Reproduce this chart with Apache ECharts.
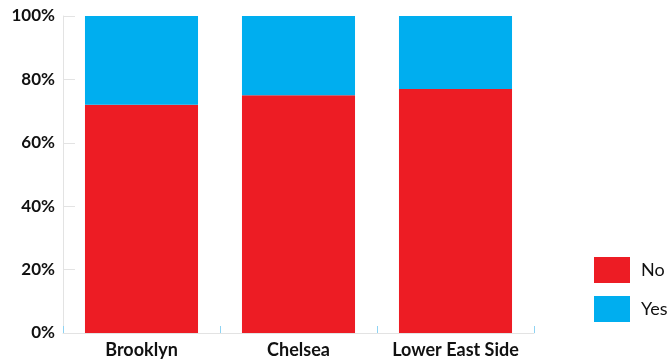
<!DOCTYPE html>
<html>
<head>
<meta charset="utf-8">
<script src="https://cdn.jsdelivr.net/npm/echarts@6/dist/echarts.min.js"></script>
<style>
  html, body { margin: 0; padding: 0; background: #fff; }
  #chart { width: 667px; height: 362px; }
</style>
</head>
<body>
<div id="chart"></div>
<script>
// Share of answers per neighbourhood (percent)
const neighbourhoods = ['Brooklyn', 'Chelsea', 'Lower East Side'];
const noShare = [72, 75, 77];
const yesShare = [28, 25, 23];
const yTicks = [0, 20, 40, 60, 80, 100];

const font = 'Lato, "Open Sans", sans-serif';

const chart = echarts.init(document.getElementById('chart'));
chart.setOption({
  animation: false,
  grid: { left: 63, right: 133, top: 16, bottom: 29 },
  legend: {
    orient: 'vertical',
    left: 589,
    top: 252,
    itemWidth: 36,
    itemHeight: 26,
    itemGap: 13,
    icon: 'rect',
    textStyle: { fontFamily: font, fontSize: 18, color: '#111', padding: [0, 0, 0, 6] },
    data: ['No', 'Yes']
  },
  xAxis: {
    type: 'category',
    data: neighbourhoods,
    axisLine: { lineStyle: { color: '#e3e3e3' } },
    axisTick: { show: true, inside: true, length: 7, lineStyle: { color: '#8ed3f3' } },
    axisLabel: {
      interval: 0, hideOverlap: false,
      fontFamily: font, fontWeight: 'bold', fontSize: 18, color: '#111', margin: 8
    }
  },
  yAxis: {
    type: 'value',
    min: yTicks[0],
    max: yTicks[yTicks.length - 1],
    interval: yTicks[1] - yTicks[0],
    axisLine: { show: true, lineStyle: { color: '#e3e3e3' } },
    axisTick: { show: true, inside: true, length: 12, lineStyle: { color: '#e3e3e3' } },
    splitLine: { show: false },
    axisLabel: { formatter: '{value}%', fontFamily: font, fontWeight: 'bold', fontSize: 17, color: '#111', margin: 8 }
  },
  series: [
    {
      name: 'No', type: 'bar', stack: 'share', data: noShare, barWidth: '72%',
      itemStyle: { color: '#ED1C24' }
    },
    {
      name: 'Yes', type: 'bar', stack: 'share', data: yesShare, barWidth: '72%',
      itemStyle: { color: '#00AEEF' }
    }
  ]
});
</script>
</body>
</html>
